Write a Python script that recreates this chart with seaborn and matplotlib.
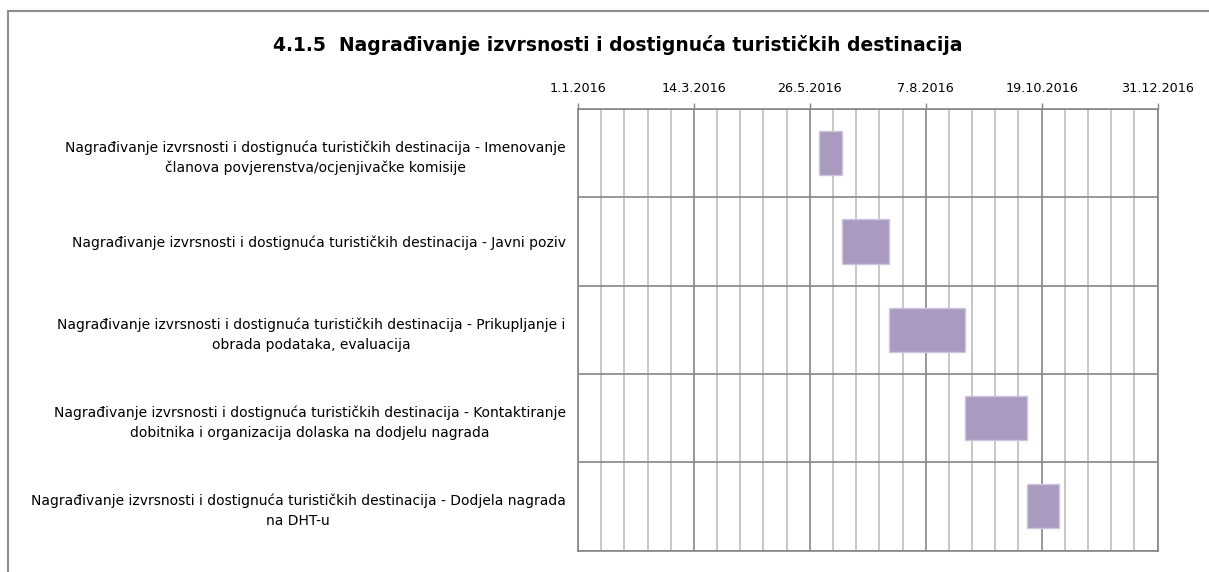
import matplotlib
matplotlib.use("Agg")
import matplotlib.pyplot as plt
import matplotlib.dates as mdates
from matplotlib.lines import Line2D
from matplotlib.ticker import FixedLocator, FuncFormatter
import numpy as np
import pandas as pd
import seaborn as sns

# Project phases and their schedule
tasks = [
    "Nagrađivanje izvrsnosti i dostignuća turističkih destinacija - Imenovanje\nčlanova povjerenstva/ocjenjivačke komisije",
    "Nagrađivanje izvrsnosti i dostignuća turističkih destinacija - Javni poziv",
    "Nagrađivanje izvrsnosti i dostignuća turističkih destinacija - Prikupljanje i\nobrada podataka, evaluacija",
    "Nagrađivanje izvrsnosti i dostignuća turističkih destinacija - Kontaktiranje\ndobitnika i organizacija dolaska na dodjelu nagrada",
    "Nagrađivanje izvrsnosti i dostignuća turističkih destinacija - Dodjela nagrada\nna DHT-u",
]
start_dates = ["2016-06-01", "2016-06-15", "2016-07-15", "2016-09-01", "2016-10-10"]
end_dates = ["2016-06-15", "2016-07-15", "2016-09-01", "2016-10-10", "2016-10-30"]

axis_start = "2016-01-01"
axis_end = "2016-12-31"
major_step_days = 73
minor_per_major = 5

title = "4.1.5  Nagrađivanje izvrsnosti i dostignuća turističkih destinacija"

sns.set_theme(style="white")
plt.rcParams["font.family"] = ["DejaVu Sans"]

start_num = mdates.date2num(pd.to_datetime(start_dates))
end_num = mdates.date2num(pd.to_datetime(end_dates))
df = pd.DataFrame({"task": tasks, "start": start_num, "duration": end_num - start_num})

W, H = 1209, 572
fig = plt.figure(figsize=(W / 100, H / 100), dpi=100)
ax = fig.add_axes([578 / W, 1 - 550.5 / H, (1157.5 - 578) / W, (550.5 - 109) / H])

bar_color = "#A99ABF"
sns.barplot(data=df, x="duration", y="task", orient="y", ax=ax,
            left=df["start"].values, width=0.5, color=bar_color,
            edgecolor="#CFC6DD", linewidth=1, errorbar=None, zorder=3,
            saturation=1)

x0 = mdates.date2num(pd.Timestamp(axis_start))
x1 = mdates.date2num(pd.Timestamp(axis_end))
ax.set_xlim(x0, x1)
ax.set_ylim(len(tasks) - 0.5, -0.5)

major = np.arange(x0, x1 + 1, major_step_days)
minor = np.arange(x0, x1 + 0.1, major_step_days / minor_per_major)
ax.xaxis.set_major_locator(FixedLocator(major))
ax.xaxis.set_minor_locator(FixedLocator(minor))


def fmt(v, pos):
    d = mdates.num2date(v)
    return f"{d.day}.{d.month}.{d.year}"


ax.xaxis.set_major_formatter(FuncFormatter(fmt))
ax.xaxis.tick_top()
ax.xaxis.set_label_position("top")
ax.tick_params(axis="x", which="major", top=True, bottom=False, length=4,
               width=1, color="#868686", pad=6, labelsize=9.2, labelcolor="#000000")
ax.tick_params(axis="x", which="minor", top=False, bottom=False, length=0)

ax.grid(axis="x", which="minor", color="#BEBEBE", linewidth=1.2, zorder=1)
ax.grid(axis="x", which="major", color="#868686", linewidth=1.2, zorder=1)

# Row separators between the phases
ax.yaxis.set_minor_locator(FixedLocator(np.arange(-0.5, len(tasks), 1.0)))
ax.grid(axis="y", which="minor", color="#868686", linewidth=1.2, zorder=1)
ax.grid(axis="y", which="major", visible=False)
ax.set_axisbelow(True)

ax.tick_params(axis="y", which="both", length=0, pad=9, labelsize=10, labelcolor="#000000")
for lbl in ax.get_yticklabels():
    lbl.set_multialignment("center")
    lbl.set_linespacing(1.55)

ax.set_xlabel("")
ax.set_ylabel("")
for side, sp in ax.spines.items():
    sp.set_visible(True)
    sp.set_color("#868686")
    sp.set_linewidth(1.2)

# Chart frame
frame_kw = dict(color="#8C8C8C", linewidth=1.5, transform=fig.transFigure)
fig.add_artist(Line2D([8 / W, 8 / W], [1 - 11 / H, 0], **frame_kw))
fig.add_artist(Line2D([8 / W, 1], [1 - 11 / H, 1 - 11 / H], **frame_kw))

fig.text(617.5 / W, 1 - 45 / H, title, ha="center", va="center",
         fontsize=13.5, fontweight="bold", color="#000000")

fig.savefig("out.png", dpi=100, facecolor="white")
